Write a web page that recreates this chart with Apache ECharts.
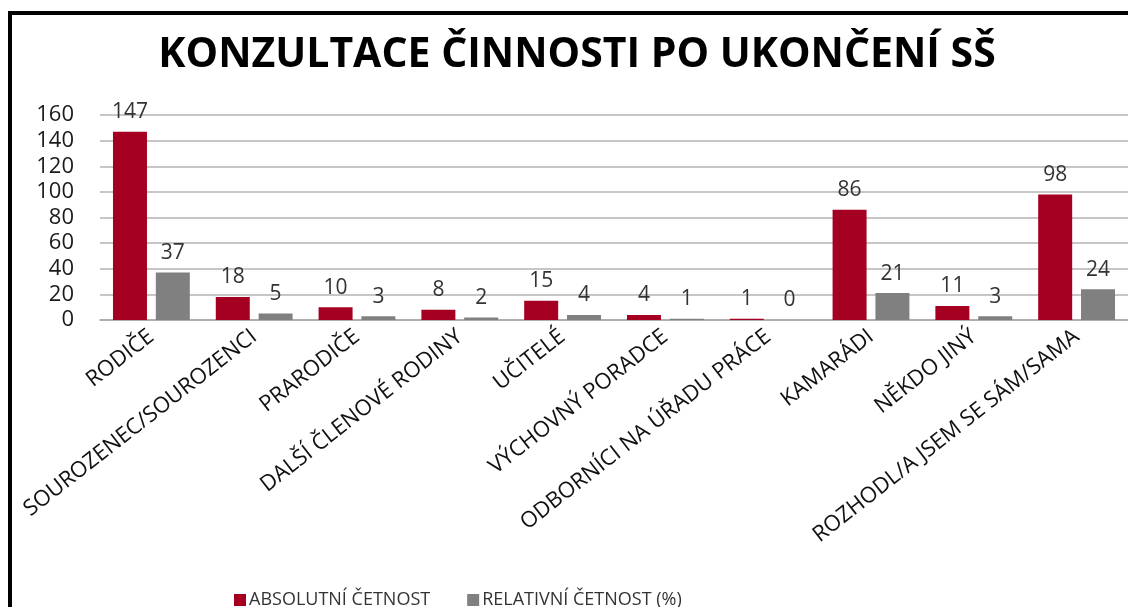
<!DOCTYPE html>
<html>
<head>
<meta charset="utf-8">
<script src="https://cdn.jsdelivr.net/npm/echarts@6/dist/echarts.min.js"></script>
<style>
  html, body { margin: 0; padding: 0; background: #fff; }
  #chart { width: 1128px; height: 607px; }
</style>
</head>
<body>
<div id="chart"></div>
<script>
// kategorie a hodnoty z grafu
var categories = [
  "RODIČE",
  "SOUROZENEC/SOUROZENCI",
  "PRARODIČE",
  "DALŠÍ ČLENOVÉ RODINY",
  "UČITELÉ",
  "VÝCHOVNÝ PORADCE",
  "ODBORNÍCI NA ÚŘADU PRÁCE",
  "KAMARÁDI",
  "NĚKDO JINÝ",
  "ROZHODL/A JSEM SE SÁM/SAMA"
];
var absolutni = [147, 18, 10, 8, 15, 4, 1, 86, 11, 98];
var relativni = [37, 5, 3, 2, 4, 1, 0, 21, 3, 24];
var yTicks = { min: 0, max: 160, interval: 20 };

var chart = echarts.init(document.getElementById("chart"));

var labelStyle = {
  show: true,
  position: "top",
  distance: 9,
  color: "#333333",
  fontFamily: "Open Sans",
  fontSize: 21
};

chart.setOption({
  animation: false,
  title: {
    text: "KONZULTACE ČINNOSTI PO UKONČENÍ SŠ",
    left: 572,
    textAlign: "center",
    top: 30,
    textStyle: {
      fontFamily: "Open Sans",
      fontWeight: "bold",
      fontSize: 41,
      color: "#000000"
    }
  },
  // ramecek grafu
  graphic: [
    {
      type: "rect",
      shape: { x: 10, y: 13, width: 1200, height: 700 },
      style: { fill: "none", stroke: "#000000", lineWidth: 4 },
      silent: true
    }
  ],
  legend: {
    left: 229,
    top: 586,
    itemWidth: 12,
    itemHeight: 12,
    itemGap: 37,
    icon: "rect",
    textStyle: {
      fontFamily: "Open Sans",
      fontSize: 18,
      color: "#333333",
      padding: [0, 0, 0, -2]
    },
    data: ["ABSOLUTNÍ ČETNOST", "RELATIVNÍ ČETNOST (%)"]
  },
  grid: {
    left: 100,
    right: -7,
    top: 115,
    bottom: 287
  },
  xAxis: {
    type: "category",
    data: categories,
    axisTick: { show: false },
    axisLine: { lineStyle: { color: "#a6a6a6", width: 1.5 } },
    axisLabel: {
      interval: 0,
      rotate: 38,
      margin: 14,
      color: "#111111",
      fontFamily: "Open Sans",
      fontSize: 22
    }
  },
  yAxis: {
    type: "value",
    min: yTicks.min,
    max: yTicks.max,
    interval: yTicks.interval,
    axisLine: { show: false },
    axisTick: { show: false },
    splitLine: { lineStyle: { color: "#b3b3b3", width: 1.5 } },
    axisLabel: {
      margin: 26,
      color: "#1a1a1a",
      fontFamily: "Open Sans",
      fontSize: 22
    }
  },
  series: [
    {
      name: "ABSOLUTNÍ ČETNOST",
      type: "bar",
      data: absolutni,
      barWidth: 34,
      barGap: "26%",
      itemStyle: { color: "#a50021" },
      label: labelStyle
    },
    {
      name: "RELATIVNÍ ČETNOST (%)",
      type: "bar",
      data: relativni,
      barWidth: 34,
      itemStyle: { color: "#808080" },
      label: labelStyle
    }
  ]
});
</script>
</body>
</html>
